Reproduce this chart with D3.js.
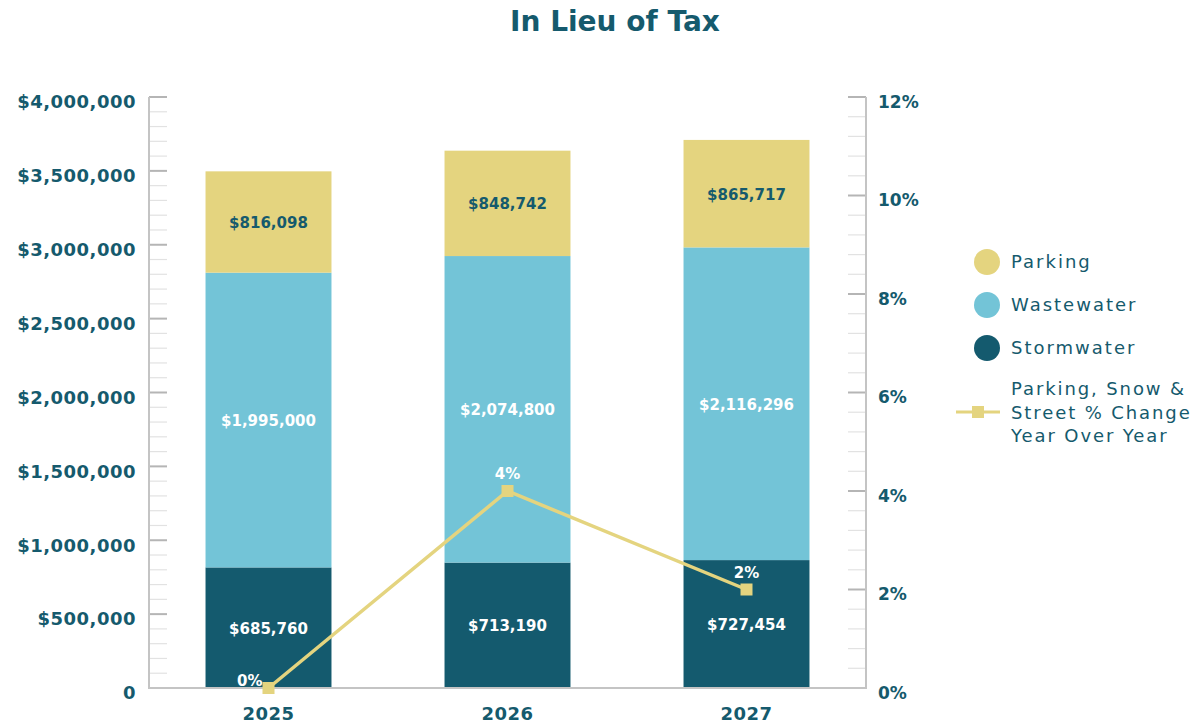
<!DOCTYPE html>
<html>
<head>
<meta charset="utf-8">
<script src="https://cdn.jsdelivr.net/npm/d3@7"></script>
<style>
  html, body { margin: 0; padding: 0; background: #ffffff; }
  svg { display: block; font-family: "DejaVu Sans", sans-serif; }
</style>
</head>
<body>
<svg id="chart" width="1199" height="725"></svg>
<script>
// ---- data ----
const years = ["2025", "2026", "2027"];
const stormwater = [685760, 713190, 727454];
const wastewater = [1995000, 2074800, 2116296];
const parking = [816098, 848742, 865717];
const pctChange = [0, 4, 2];
const leftTicks = [0, 500000, 1000000, 1500000, 2000000, 2500000, 3000000, 3500000, 4000000];
const rightTicks = [0, 2, 4, 6, 8, 10, 12];
const legendLabels = ["Parking", "Wastewater", "Stormwater"];
const lineLegendLines = ["Parking, Snow &", "Street % Change", "Year Over Year"];

// In the reference picture the dark bottom segment is drawn with the height of the
// parking figure and the yellow top segment with the height of the stormwater figure,
// while the printed labels keep their own values. Reproduce that as drawn.
const segments = [
  { key: "bottom", heights: parking,    labels: stormwater, color: "#145a6e", text: "#ffffff" },
  { key: "middle", heights: wastewater, labels: wastewater, color: "#73c4d7", text: "#ffffff" },
  { key: "top",    heights: stormwater, labels: parking,    color: "#e4d47f", text: "#155a6d" }
];

const teal = "#155a6d";
const svg = d3.select("#chart");

const x0 = 149, x1 = 866, yBottom = 688, yTop = 97;
const x = d3.scaleBand().domain(years).range([x0, x1]).paddingInner(0.473).paddingOuter(0.2365);
const y = d3.scaleLinear().domain([0, 4000000]).range([yBottom, yTop]);
const yR = d3.scaleLinear().domain([0, 12]).range([yBottom, yTop]);

// title
svg.append("text").attr("x", 615).attr("y", 31).attr("text-anchor", "middle")
  .attr("font-size", 28).attr("font-weight", "bold").attr("fill", teal).text("In Lieu of Tax");

// minor ticks (left every 100k, right every 0.4%)
const minorL = d3.range(0, 4000001, 100000);
svg.append("g").selectAll("line").data(minorL).join("line")
  .attr("x1", x0).attr("x2", x0 + 18)
  .attr("y1", d => y(d)).attr("y2", d => y(d))
  .attr("stroke", d => d % 500000 === 0 ? "#b5b5b5" : "#e2e2e2")
  .attr("stroke-width", d => d % 500000 === 0 ? 2 : 1.2);
const minorR = d3.range(0, 31).map(i => i * 0.4);
svg.append("g").selectAll("line").data(minorR).join("line")
  .attr("x1", x1 - 18).attr("x2", x1)
  .attr("y1", d => yR(d)).attr("y2", d => yR(d))
  .attr("stroke", (d, i) => i % 5 === 0 ? "#b5b5b5" : "#e2e2e2")
  .attr("stroke-width", (d, i) => i % 5 === 0 ? 2 : 1.2);

// left axis labels
const gL = svg.append("g").attr("transform", `translate(${x0},0)`)
  .call(d3.axisLeft(y).tickValues(leftTicks).tickSize(0).tickPadding(13)
    .tickFormat(d => d === 0 ? "0" : "$" + d3.format(",")(d)));
gL.select(".domain").remove();
gL.selectAll("text").attr("font-size", 18).attr("font-weight", "bold").attr("fill", teal)
  .attr("letter-spacing", 0.5).attr("font-family", "DejaVu Sans").attr("dy", "0.6em");

// right axis labels
const gR = svg.append("g").attr("transform", `translate(${x1},0)`)
  .call(d3.axisRight(yR).tickValues(rightTicks).tickSize(0).tickPadding(12)
    .tickFormat(d => d + "%"));
gR.select(".domain").remove();
gR.selectAll("text").attr("font-size", 17).attr("font-weight", "bold").attr("fill", teal)
  .attr("font-family", "DejaVu Sans").attr("dy", "0.6em");

// bars
const rows = years.map((yr, i) => {
  const o = { year: yr };
  segments.forEach(s => o[s.key] = s.heights[i]);
  return o;
});
const stacked = d3.stack().keys(segments.map(s => s.key))(rows);
stacked.forEach((layer, li) => {
  const seg = segments[li];
  const g = svg.append("g");
  g.selectAll("rect").data(layer).join("rect")
    .attr("x", d => x(d.data.year)).attr("width", x.bandwidth())
    .attr("y", d => y(d[1])).attr("height", d => y(d[0]) - y(d[1]))
    .attr("fill", seg.color);
  g.selectAll("text").data(layer).join("text")
    .attr("x", d => x(d.data.year) + x.bandwidth() / 2)
    .attr("y", d => (y(d[0]) + y(d[1])) / 2)
    .attr("dy", "0.4em").attr("text-anchor", "middle")
    .attr("font-size", 15).attr("font-weight", "bold").attr("fill", seg.text)
    .text((d, i) => "$" + d3.format(",")(seg.labels[i]));
});

// axis lines
svg.append("line").attr("x1", x0).attr("x2", x0).attr("y1", yTop).attr("y2", yBottom)
  .attr("stroke", "#c4c4c4").attr("stroke-width", 2);
svg.append("line").attr("x1", x1).attr("x2", x1).attr("y1", yTop).attr("y2", yBottom)
  .attr("stroke", "#c4c4c4").attr("stroke-width", 2);
svg.append("line").attr("x1", x0 - 1).attr("x2", x1 + 1).attr("y1", yBottom).attr("y2", yBottom)
  .attr("stroke", "#c4c4c4").attr("stroke-width", 2);

// x labels
svg.append("g").selectAll("text").data(years).join("text")
  .attr("x", d => x(d) + x.bandwidth() / 2).attr("y", 720)
  .attr("text-anchor", "middle").attr("font-size", 18).attr("font-weight", "bold")
  .attr("letter-spacing", 0.5).attr("fill", teal).text(d => d);

// line
const lineColor = "#e4d47f";
const cx = d => x(d) + x.bandwidth() / 2;
const lineData = years.map((yr, i) => ({ year: yr, v: pctChange[i] }));
svg.append("path").datum(lineData)
  .attr("d", d3.line().x(d => cx(d.year)).y(d => yR(d.v)))
  .attr("fill", "none").attr("stroke", lineColor).attr("stroke-width", 3.5);
svg.append("g").selectAll("rect").data(lineData).join("rect")
  .attr("x", d => cx(d.year) - 6).attr("y", d => yR(d.v) - 6)
  .attr("width", 12).attr("height", 12).attr("fill", lineColor);
svg.append("g").selectAll("text").data(lineData).join("text")
  .attr("x", (d, i) => i === 0 ? cx(d.year) - 6 : cx(d.year))
  .attr("y", (d, i) => i === 0 ? yR(d.v) - 2 : yR(d.v) - 12)
  .attr("text-anchor", (d, i) => i === 0 ? "end" : "middle")
  .attr("font-size", 15).attr("font-weight", "bold").attr("fill", "#ffffff")
  .text(d => d.v + "%");

// legend
const legendColors = ["#e4d47f", "#73c4d7", "#145a6e"];
const legendY = [262, 305, 348];
const lg = svg.append("g");
legendLabels.forEach((lab, i) => {
  lg.append("circle").attr("cx", 987).attr("cy", legendY[i]).attr("r", 13).attr("fill", legendColors[i]);
  lg.append("text").attr("x", 1011).attr("y", legendY[i]).attr("dy", "0.36em")
    .attr("font-size", 18).attr("letter-spacing", 2).attr("fill", teal).text(lab);
});
lg.append("line").attr("x1", 956).attr("x2", 1000).attr("y1", 412).attr("y2", 412)
  .attr("stroke", lineColor).attr("stroke-width", 3);
lg.append("rect").attr("x", 972).attr("y", 406).attr("width", 12).attr("height", 12).attr("fill", lineColor);
lineLegendLines.forEach((t, i) => {
  lg.append("text").attr("x", 1011).attr("y", 389 + i * 23.5).attr("dy", "0.36em")
    .attr("font-size", 18).attr("letter-spacing", 1.9).attr("fill", teal).text(t);
});
</script>
</body>
</html>
